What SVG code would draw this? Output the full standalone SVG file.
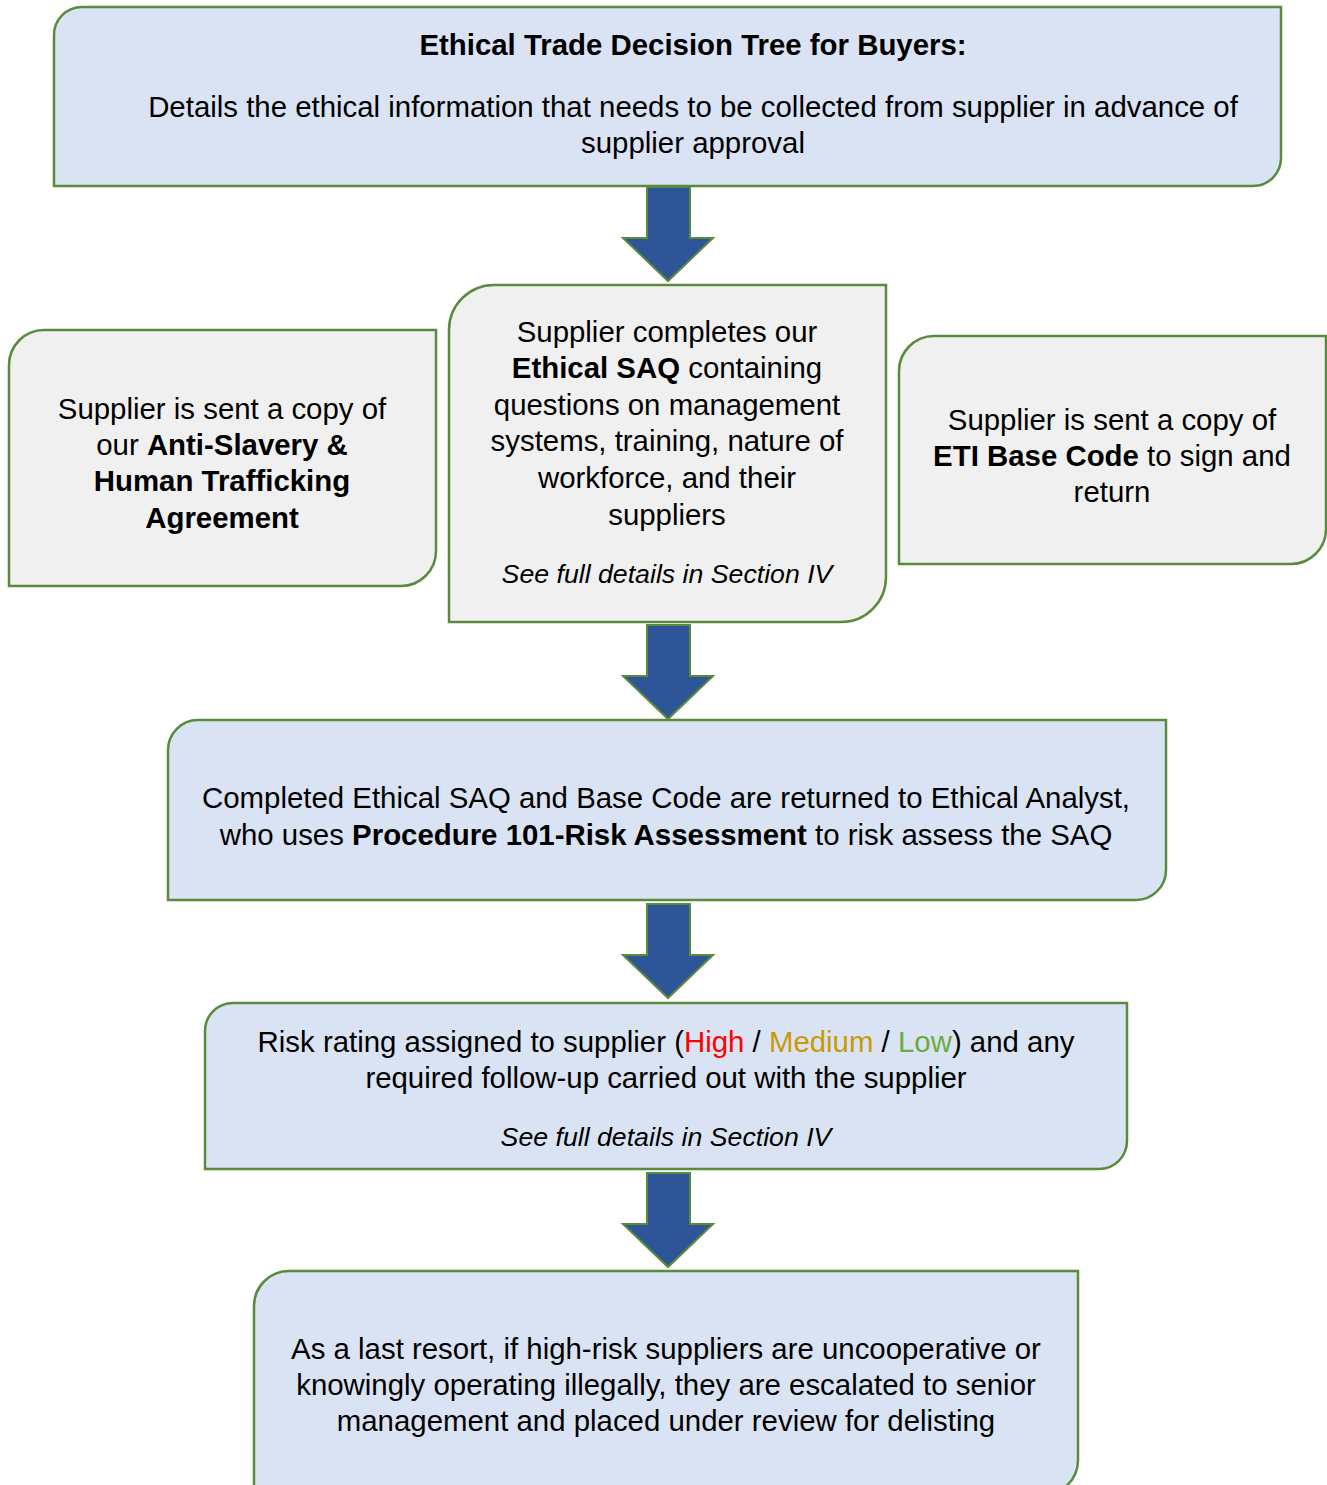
<svg xmlns="http://www.w3.org/2000/svg" width="1327" height="1485" viewBox="0 0 1327 1485">
<style>
.box{stroke:#5a8a3c;stroke-width:2.5}
.blue{fill:#dae3f3}
.grey{fill:#f0f0f0}
.arrow{fill:#2e5597;stroke:#5a8a3c;stroke-width:2}
text{font-family:"Liberation Sans",Arial,sans-serif;font-size:29.4px;fill:#000;text-anchor:middle}
.b{font-weight:bold}
.i{font-style:italic;font-size:26.7px}
</style>
<rect width="1327" height="1485" fill="#fff"/>
<g id="connectors">
<path class="arrow" d="M647,187 H690 V238 H713 L668,281 L623,238 H647 Z"/>
<path class="arrow" d="M647,625 H690 V676 H713 L668,719 L623,676 H647 Z"/>
<path class="arrow" d="M647,904 H690 V955 H713 L668,998 L623,955 H647 Z"/>
<path class="arrow" d="M647,1173 H690 V1224 H713 L668,1267 L623,1224 H647 Z"/>
</g>
<g id="n1">
<path class="box blue" d="M82,7 H1281 V158 A28,28 0 0 1 1253,186 H54 V35 A28,28 0 0 1 82,7 Z"/>
<text x="693" y="55" class="b">Ethical Trade Decision Tree for Buyers:</text>
<text x="693" y="117">Details the ethical information that needs to be collected from supplier in advance of</text>
<text x="693" y="153">supplier approval</text>
</g>
<g id="n2">
<path class="box grey" d="M44,330 H436 V551 A35,35 0 0 1 401,586 H9 V365 A35,35 0 0 1 44,330 Z"/>
<text x="222" y="419">Supplier is sent a copy of</text>
<text x="222" y="455">our <tspan class="b">Anti-Slavery &amp;</tspan></text>
<text x="222" y="491" class="b">Human Trafficking</text>
<text x="222" y="528" class="b">Agreement</text>
</g>
<g id="n3">
<path class="box grey" d="M494,285 H886 V577 A45,45 0 0 1 841,622 H449 V330 A45,45 0 0 1 494,285 Z"/>
<text x="667" y="342">Supplier completes our</text>
<text x="667" y="378"><tspan class="b">Ethical SAQ</tspan> containing</text>
<text x="667" y="415">questions on management</text>
<text x="667" y="451">systems, training, nature of</text>
<text x="667" y="488">workforce, and their</text>
<text x="667" y="525">suppliers</text>
<text x="667" y="583" class="i">See full details in Section IV</text>
</g>
<g id="n4">
<path class="box grey" d="M934,336 H1326 V529 A35,35 0 0 1 1291,564 H899 V371 A35,35 0 0 1 934,336 Z"/>
<text x="1112" y="430">Supplier is sent a copy of</text>
<text x="1112" y="466"><tspan class="b">ETI Base Code</tspan> to sign and</text>
<text x="1112" y="502">return</text>
</g>
<g id="n5">
<path class="box blue" d="M198,720 H1166 V870 A30,30 0 0 1 1136,900 H168 V750 A30,30 0 0 1 198,720 Z"/>
<text x="666" y="808">Completed Ethical SAQ and Base Code are returned to Ethical Analyst,</text>
<text x="666" y="845">who uses <tspan class="b">Procedure 101-Risk Assessment</tspan> to risk assess the SAQ</text>
</g>
<g id="n6">
<path class="box blue" d="M233,1003 H1127 V1141 A28,28 0 0 1 1099,1169 H205 V1031 A28,28 0 0 1 233,1003 Z"/>
<text x="666" y="1052">Risk rating assigned to supplier (<tspan fill="#ff0000">High</tspan> / <tspan fill="#c99a06">Medium</tspan> / <tspan fill="#6aaa3e">Low</tspan>) and any</text>
<text x="666" y="1088">required follow-up carried out with the supplier</text>
<text x="666" y="1146" class="i">See full details in Section IV</text>
</g>
<g id="n7">
<path class="box blue" d="M289,1271 H1078 V1460 A35,35 0 0 1 1043,1495 H254 V1306 A35,35 0 0 1 289,1271 Z"/>
<text x="666" y="1359">As a last resort, if high-risk suppliers are uncooperative or</text>
<text x="666" y="1395">knowingly operating illegally, they are escalated to senior</text>
<text x="666" y="1431">management and placed under review for delisting</text>
</g>
</svg>
